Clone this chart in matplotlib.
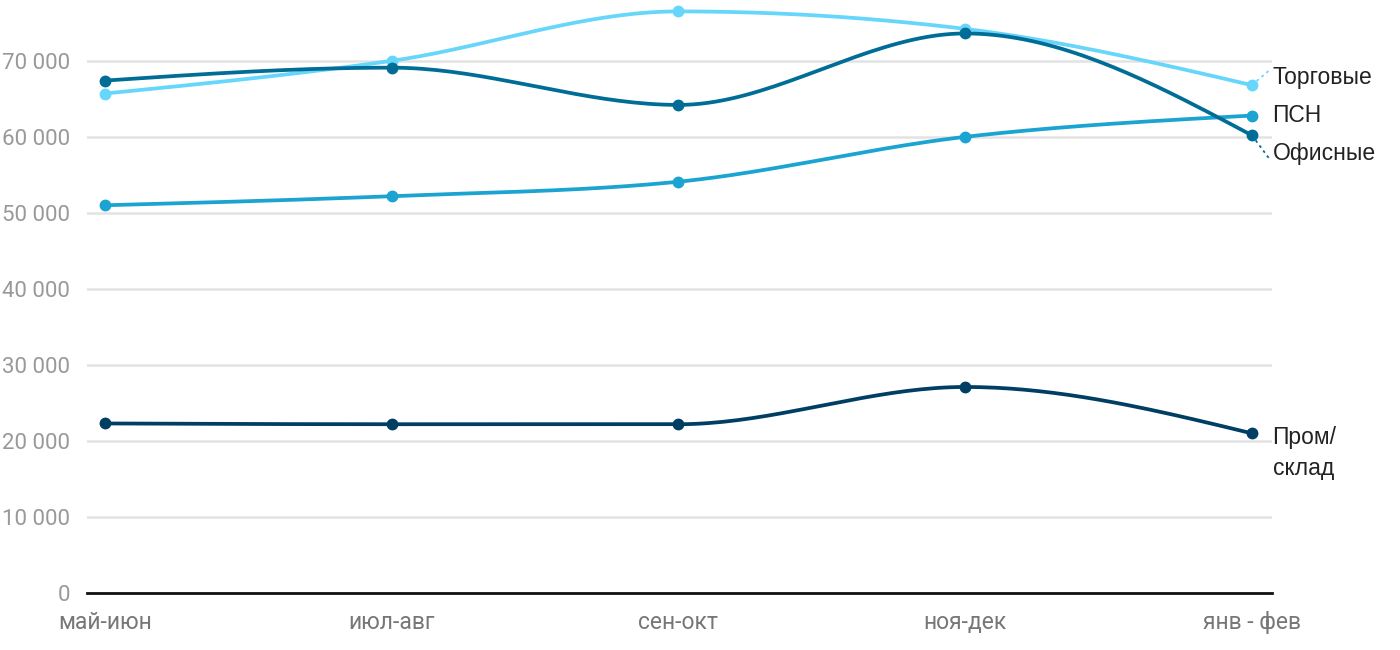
import numpy as np
import matplotlib
matplotlib.use('Agg')
from matplotlib import pyplot as plt

periods = ['май-июн', 'июл-авг', 'сен-окт', 'ноя-дек', 'янв - фев']
torg = [65700, 70000, 76500, 74200, 66800]
ofis = [67400, 69100, 64200, 73600, 60200]
psn = [51000, 52200, 54100, 60000, 62800]
prom = [22300, 22200, 22200, 27100, 21000]

names = ['Торговые', 'ПСН', 'Офисные', 'Пром/\nсклад']
colors = ['#66d6fa', '#1ba3d1', '#006d96', '#003f63']
# label y positions (layout only)
label_y = [67800, 62800, 57800, 18400]


def monotone(x, y, n=40):
    # monotone cubic (like d3 curveMonotoneX), for drawing only
    x = np.asarray(x, float)
    y = np.asarray(y, float)
    h = np.diff(x)
    s = np.diff(y) / h
    m = np.zeros(len(x))
    for i in range(1, len(x) - 1):
        if s[i - 1] * s[i] <= 0:
            m[i] = 0
        else:
            p = (s[i - 1] * h[i] + s[i] * h[i - 1]) / (h[i - 1] + h[i])
            m[i] = (np.sign(s[i - 1]) + np.sign(s[i])) * min(abs(s[i - 1]), abs(s[i]), 0.5 * abs(p))
    m[0] = (3 * s[0] - m[1]) / 2 if len(x) > 2 else s[0]
    m[-1] = (3 * s[-1] - m[-2]) / 2
    xs, ys = [], []
    for i in range(len(x) - 1):
        t = np.linspace(0, 1, n)
        h00 = 2 * t**3 - 3 * t**2 + 1
        h10 = t**3 - 2 * t**2 + t
        h01 = -2 * t**3 + 3 * t**2
        h11 = t**3 - t**2
        xs.extend(x[i] + t * h[i])
        ys.extend(h00 * y[i] + h10 * h[i] * m[i] + h01 * y[i + 1] + h11 * h[i] * m[i + 1])
    return xs, ys


fig = plt.figure(figsize=(14, 6.5), dpi=100)
ax = fig.add_axes([87 / 1400, 57 / 650, (1272 - 87) / 1400, 593 / 650])

xi = np.arange(len(periods))
series = [torg, psn, ofis, prom]
# draw order: torg under ofis at right, like reference
for k in [3, 1, 0, 2]:
    xs, ys = monotone(xi, series[k])
    ax.plot(xs, ys, color=colors[k], lw=2.7, solid_capstyle='round', zorder=3, clip_on=False)
    ax.plot(xi, series[k], 'o', color=colors[k], markersize=7.5, zorder=4, clip_on=False)

for k in range(4):
    ax.text(4.072, label_y[k], names[k], fontsize=16.5, color='#222222', va='center', ha='left',
            family='Liberation Sans', linespacing=1.45)

# dotted connectors for labels moved away from point
ax.plot([4, 4.065], [torg[-1], 68900], ls=(0, (1.5, 2)), color=colors[0], lw=1.3, clip_on=False)
ax.plot([4, 4.065], [ofis[-1], 56900], ls=(0, (1.5, 2)), color=colors[2], lw=1.3, clip_on=False)

ax.set_xlim(-0.063, 4.07)
ax.set_ylim(0, 78000)
ax.set_yticks(range(0, 80000, 10000))
ax.set_yticklabels(['0'] + ['%d 000' % (v // 1000) for v in range(10000, 80000, 10000)])
ax.set_xticks(xi)
ax.set_xticklabels(periods)
ax.grid(axis='y', color='#e3e3e3', lw=1.8)
ax.set_axisbelow(True)
for sp in ['top', 'right', 'left']:
    ax.spines[sp].set_visible(False)
ax.spines['bottom'].set_color('#111111')
ax.spines['bottom'].set_linewidth(2)
ax.spines['bottom'].set_zorder(5)
ax.tick_params(axis='both', length=0)
ax.tick_params(axis='y', pad=12, labelcolor='#999999', labelsize=16)
ax.tick_params(axis='x', pad=13, labelcolor='#777777', labelsize=16.5)
for t in ax.get_xticklabels() + ax.get_yticklabels():
    t.set_family('Roboto')

fig.savefig('out.png', dpi=100)
